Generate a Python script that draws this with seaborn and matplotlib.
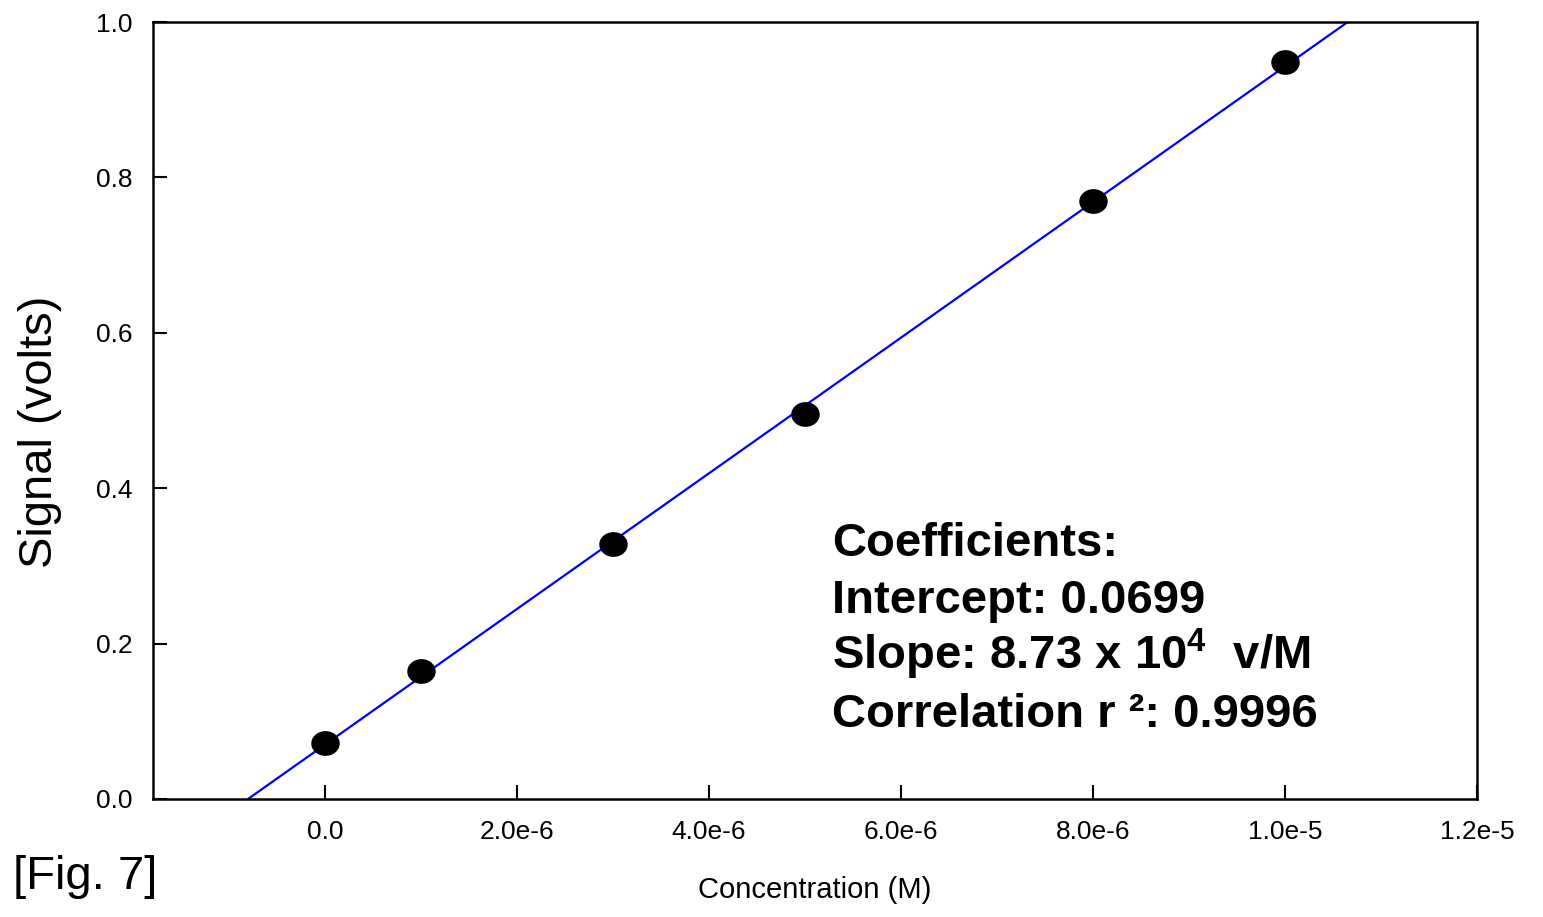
import matplotlib
matplotlib.use('Agg')
import matplotlib.pyplot as plt
import numpy as np
import pandas as pd
import seaborn as sns

# calibration data
concentration = [0.0, 1.0e-6, 3.0e-6, 5.0e-6, 8.0e-6, 1.0e-5]
signal = [0.072, 0.165, 0.328, 0.495, 0.769, 0.948]

# fit coefficients
intercept = 0.0699
slope = 8.73e4

x_ticks = [0.0, 2e-6, 4e-6, 6e-6, 8e-6, 1e-5, 1.2e-5]
x_tick_labels = ['0.0', '2.0e-6', '4.0e-6', '6.0e-6', '8.0e-6', '1.0e-5', '1.2e-5']
y_ticks = [0.0, 0.2, 0.4, 0.6, 0.8, 1.0]
y_tick_labels = ['0.0', '0.2', '0.4', '0.6', '0.8', '1.0']

coef_lines = ['Coefficients:',
              'Intercept: 0.0699',
              'Slope: 8.73 x 10$^{4}$  v/M',
              'Correlation r \u00b2: 0.9996']

df = pd.DataFrame({'Concentration (M)': concentration, 'Signal (volts)': signal})

sns.set_style('ticks')
plt.rcParams['font.family'] = ['Liberation Sans', 'DejaVu Sans']
plt.rcParams['mathtext.fontset'] = 'custom'
plt.rcParams['mathtext.rm'] = 'Liberation Sans:bold'
plt.rcParams['mathtext.bf'] = 'Liberation Sans:bold'
for key in ['text.color', 'axes.labelcolor', 'xtick.color', 'ytick.color']:
    plt.rcParams[key] = 'black'

fig = plt.figure(figsize=(15.43, 9.17), dpi=100)
ax = fig.add_axes([0.0992, 0.1287, 0.8580, 0.8473])

# slightly wide ellipse marker like the original
t = np.linspace(0, 2 * np.pi, 60)
ellipse = np.column_stack([1.15 * np.cos(t), np.sin(t)])

ax.axline((0, intercept), slope=slope, color='#0000ff', lw=1.6, zorder=2)
sns.scatterplot(data=df, x='Concentration (M)', y='Signal (volts)', ax=ax,
                marker=ellipse, s=420, color='black', edgecolor='black',
                linewidth=0, zorder=3)

ax.set_xlim(-1.79e-6, 1.2e-5)
ax.set_ylim(0, 1.0)
ax.set_xticks(x_ticks)
ax.set_xticklabels(x_tick_labels)
ax.set_yticks(y_ticks)
ax.set_yticklabels(y_tick_labels)
ax.tick_params(direction='in', length=10, width=1.5, labelsize=19, pad=15,
               colors='black')

for sp in ax.spines.values():
    sp.set_visible(True)
    sp.set_linewidth(1.8)
    sp.set_color('black')

ax.set_xlabel('Concentration (M)', fontsize=21, labelpad=23)
ax.set_ylabel('Signal (volts)', fontsize=34)
ax.yaxis.set_label_coords(-0.069, 0.472)

# coefficient block, one line per text so the spacing stays even
for i, line in enumerate(coef_lines):
    ax.text(0.513, 0.313 - i * 0.0733, line, transform=ax.transAxes,
            fontsize=34, fontweight='bold', ha='left', va='baseline')

fig.text(13 / 1543, 1 - 877 / 917, '[Fig. 7]', fontsize=34,
         ha='left', va='center')

fig.savefig('out.png', dpi=100, facecolor='white')
